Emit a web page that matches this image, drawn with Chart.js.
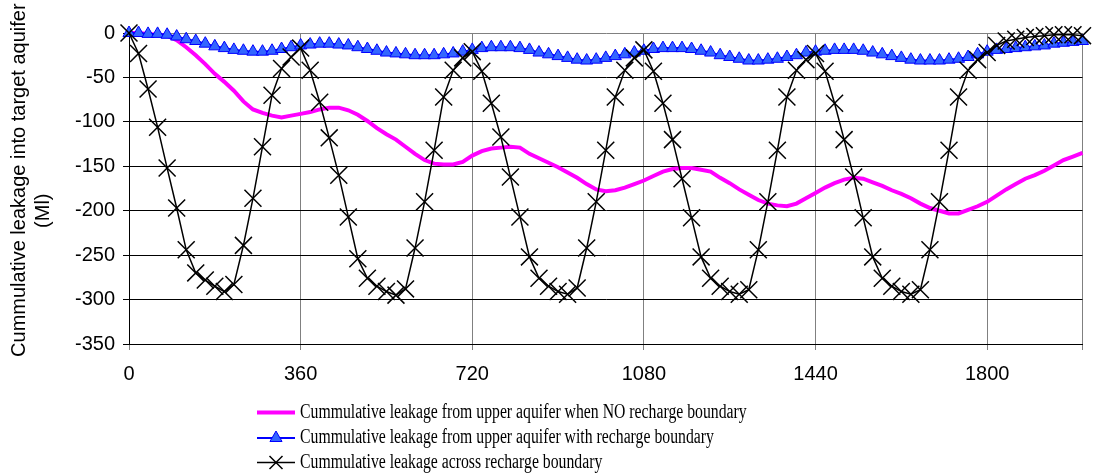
<!DOCTYPE html>
<html>
<head>
<meta charset="utf-8">
<script src="https://cdn.jsdelivr.net/npm/chart.js@4"></script>
<style>
  html, body { margin: 0; padding: 0; background: #fff; }
  #wrap { position: relative; width: 1096px; height: 476px; }
</style>
</head>
<body>
<div id="wrap"><canvas id="chart-leakage"></canvas></div>
<script>
// ============================================================
// Data (days since start, cumulative leakage in Ml)
// ============================================================
const days = [
  0, 20, 40, 60, 80, 100, 120, 140, 160, 180, 200, 220, 240, 260, 280, 300, 320, 340, 360,
  380, 400, 420, 440, 460, 480, 500, 520, 540, 560, 580, 600, 620, 640, 660, 680, 700, 720,
  740, 760, 780, 800, 820, 840, 860, 880, 900, 920, 940, 960, 980, 1000, 1020, 1040, 1060, 1080,
  1100, 1120, 1140, 1160, 1180, 1200, 1220, 1240, 1260, 1280, 1300, 1320, 1340, 1360, 1380, 1400, 1420, 1440,
  1460, 1480, 1500, 1520, 1540, 1560, 1580, 1600, 1620, 1640, 1660, 1680, 1700, 1720, 1740, 1760, 1780, 1800,
  1820, 1840, 1860, 1880, 1900, 1920, 1940, 1960, 1980, 2000
];

const noBoundary = [
  0, 0, -1, -2, -3, -8, -16, -25, -35, -46, -55, -65, -77, -86, -90, -93, -95, -93, -91,
  -89, -86, -84, -84, -87, -92, -99, -107, -114, -120, -128, -136, -143, -147, -148, -148, -145, -138,
  -133, -130, -129, -128, -129, -136, -141, -146, -151, -157, -163, -170, -176, -178, -177, -174, -170, -166,
  -161, -156, -153, -152, -152, -154, -156, -163, -169, -176, -182, -188, -192, -194, -195, -192, -186, -180,
  -174, -169, -165, -163, -164, -168, -172, -177, -181, -186, -192, -197, -200, -203, -203, -199, -195, -190,
  -183, -176, -170, -164, -160, -155, -149, -143, -139, -135
];

const withBoundary = [
  0, 0, -1, -1, -2, -4, -7, -9, -12, -15, -17, -19, -20, -21, -21, -20, -18, -16, -14,
  -13, -12, -12, -13, -14, -16, -18, -20, -22, -23, -24, -25, -25, -25, -24, -23, -21, -19,
  -17, -16, -16, -16, -17, -19, -22, -24, -26, -28, -30, -31, -30, -28, -26, -24, -22, -20,
  -18, -17, -17, -17, -18, -20, -22, -25, -27, -29, -31, -31, -30, -29, -27, -25, -22, -21,
  -20, -19, -19, -19, -20, -22, -24, -26, -28, -30, -31, -31, -31, -30, -29, -27, -24, -21,
  -19, -18, -17, -16, -15, -14, -12, -11, -10, -9
];

const acrossBoundary = [
  0, -23, -63, -106, -152, -197, -244, -270, -278, -285, -291, -283, -239, -186, -128, -70, -40, -27, -17,
  -42, -78, -118, -160, -207, -254, -276, -285, -291, -295, -288, -242, -190, -132, -72, -42, -28, -21,
  -43, -79, -117, -162, -207, -252, -276, -285, -291, -294, -287, -242, -190, -132, -72, -42, -28, -19,
  -43, -79, -120, -164, -208, -252, -276, -285, -291, -294, -289, -244, -190, -132, -72, -42, -30, -23,
  -43, -79, -120, -162, -208, -252, -276, -285, -291, -294, -289, -244, -190, -132, -72, -42, -30, -22,
  -14, -9, -7, -5, -4, -3, -2, -2, -2, -3
];

const seriesLabels = [
  'Cummulative leakage from upper aquifer when NO recharge boundary',
  'Cummulative leakage from upper aquifer with recharge boundary',
  'Cummulative leakage across recharge boundary'
];

const xTickValues = [0, 360, 720, 1080, 1440, 1800, 2000];
const xTickLabels = ['0', '360', '720', '1080', '1440', '1800', ''];
const yTickValues = [0, -50, -100, -150, -200, -250, -300, -350];
const yTitle = ['   Cummulative leakage into target aquifer', '(Ml)        '];

const toPoints = vals => days.map((d, i) => ({ x: d, y: vals[i] }));

// ============================================================
// Legend under the plot (rows left aligned, serif text)
// ============================================================
const legendLayout = { lineStart: 257, lineEnd: 295, textX: 300, rowY: [412.5, 438, 462.5], squeeze: 0.7875 };

const lowerLegend = {
  id: 'lowerLegend',
  afterDraw(chart) {
    const { ctx } = chart;
    const L = legendLayout;
    const mid = (L.lineStart + L.lineEnd) / 2;
    ctx.save();
    chart.data.datasets.forEach((ds, i) => {
      const y = L.rowY[i];
      ctx.strokeStyle = ds.borderColor;
      ctx.lineWidth = ds.borderWidth;
      ctx.beginPath();
      ctx.moveTo(L.lineStart, y);
      ctx.lineTo(L.lineEnd, y);
      ctx.stroke();

      if (ds.pointStyle === 'triangle') {
        const r = 7;
        ctx.beginPath();
        ctx.moveTo(mid, y - r);
        ctx.lineTo(mid + 0.866 * r, y + 0.5 * r);
        ctx.lineTo(mid - 0.866 * r, y + 0.5 * r);
        ctx.closePath();
        ctx.fillStyle = ds.pointBackgroundColor;
        ctx.fill();
        ctx.lineWidth = 1;
        ctx.strokeStyle = ds.pointBorderColor;
        ctx.stroke();
      } else if (ds.pointStyle === 'crossRot') {
        const a = 6.5;
        ctx.lineWidth = 1.5;
        ctx.strokeStyle = ds.pointBorderColor;
        ctx.beginPath();
        ctx.moveTo(mid - a, y - a); ctx.lineTo(mid + a, y + a);
        ctx.moveTo(mid - a, y + a); ctx.lineTo(mid + a, y - a);
        ctx.stroke();
      }

      ctx.font = '20px "Liberation Serif", "Times New Roman", serif';
      ctx.fillStyle = '#000';
      ctx.textAlign = 'left';
      ctx.textBaseline = 'middle';
      const w = ctx.measureText(ds.label).width;
      ctx.fillText(ds.label, L.textX, y, w * L.squeeze);
    });
    ctx.restore();
  }
};

Chart.defaults.font.family = '"Liberation Sans", Arial, sans-serif';
Chart.defaults.font.size = 20;
Chart.defaults.color = '#000';

new Chart(document.getElementById('chart-leakage'), {
  type: 'line',
  data: {
    datasets: [
      {
        label: seriesLabels[0],
        data: toPoints(noBoundary),
        borderColor: '#ff00ff',
        borderWidth: 4,
        pointRadius: 0,
        fill: false,
        clip: false,
        order: 3
      },
      {
        label: seriesLabels[1],
        data: toPoints(withBoundary),
        borderColor: '#0000ff',
        borderWidth: 2,
        pointStyle: 'triangle',
        pointRadius: 7,
        pointBackgroundColor: '#3366ff',
        pointBorderColor: '#0000ff',
        pointBorderWidth: 1,
        fill: false,
        clip: false,
        order: 2
      },
      {
        label: seriesLabels[2],
        data: toPoints(acrossBoundary),
        borderColor: '#000000',
        borderWidth: 1.5,
        pointStyle: 'crossRot',
        pointRadius: 12,
        pointBorderColor: '#000000',
        pointBorderWidth: 1.5,
        fill: false,
        clip: false,
        order: 1
      }
    ]
  },
  options: {
    responsive: true,
    maintainAspectRatio: false,
    animation: false,
    events: [],
    layout: { padding: { top: 33, right: 9, bottom: 0, left: 0 } },
    scales: {
      x: {
        type: 'linear',
        min: 0,
        max: 2000,
        afterBuildTicks: scale => { scale.ticks = xTickValues.map(v => ({ value: v })); },
        afterFit: scale => { scale.height = 132; },
        ticks: {
          autoSkip: false,
          maxRotation: 0,
          padding: 12,
          color: '#000',
          font: { size: 20 },
          callback: v => xTickLabels[xTickValues.indexOf(v)]
        },
        grid: { color: '#808080', tickColor: '#808080', tickLength: 6, lineWidth: 1 },
        border: { color: '#000', width: 1 }
      },
      y: {
        min: -350,
        max: 0,
        afterBuildTicks: scale => { scale.ticks = yTickValues.map(v => ({ value: v })); },
        afterFit: scale => { scale.width = 129; },
        ticks: {
          padding: 8,
          color: '#000',
          font: { size: 20 },
          callback: v => String(v)
        },
        grid: {
          color: c => (c.tick && c.tick.value === 0 ? '#808080' : '#000'),
          tickColor: '#000',
          tickLength: 6,
          lineWidth: 1
        },
        border: { color: '#000', width: 1 },
        title: {
          display: true,
          text: yTitle,
          color: '#000',
          font: { size: 20, lineHeight: 1.2 },
          padding: { top: 7, bottom: 0 }
        }
      }
    },
    plugins: {
      legend: { display: false },
      tooltip: { enabled: false }
    }
  },
  plugins: [lowerLegend]
});
</script>
</body>
</html>
